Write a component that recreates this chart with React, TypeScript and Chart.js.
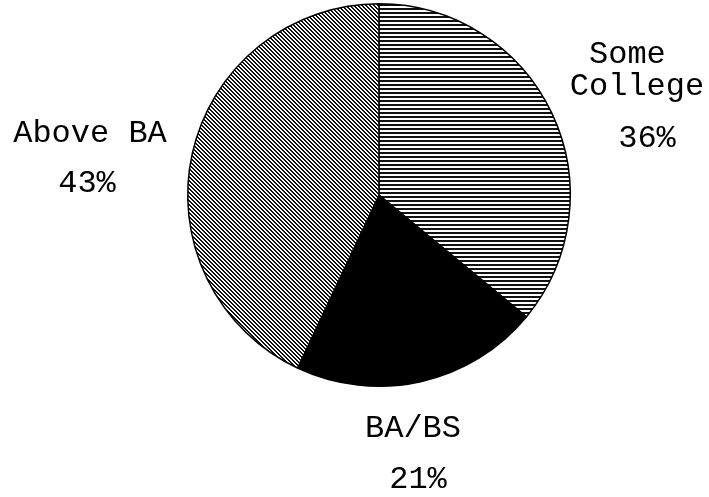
import React, { useEffect, useRef } from "react";
import { Chart, registerables } from "chart.js";

Chart.register(...registerables);

// ---- data ----
const categories = ["Some College", "BA/BS", "Above BA"];
const values = [36, 21, 43];
const nameLines = [["Some ", "College"], ["BA/BS"], ["Above BA"]];
const percentLabels = values.map((v) => `${v}%`);

// ---- label layout (pixel offsets from the pie centre) ----
const nameAnchors = [
  { dx: 258, dy: -132 },
  { dx: 34, dy: 242 },
  { dx: -289, dy: -53 },
];
const percentAnchors = [
  { dx: 268, dy: -48 },
  { dx: 39, dy: 293 },
  { dx: -292, dy: -3 },
];
const LINE_HEIGHT = 32;
const FONT = "32px 'Liberation Mono', 'Courier New', monospace";

function makeHorizontalPattern(): CanvasPattern | string {
  const c = document.createElement("canvas");
  c.width = 4;
  c.height = 4;
  const ctx = c.getContext("2d");
  if (!ctx) return "#888";
  ctx.fillStyle = "#fff";
  ctx.fillRect(0, 0, 4, 4);
  ctx.fillStyle = "#111";
  ctx.fillRect(0, 0, 4, 2);
  return ctx.createPattern(c, "repeat") || "#888";
}

function makeDiagonalPattern(): CanvasPattern | string {
  const c = document.createElement("canvas");
  c.width = 4;
  c.height = 4;
  const ctx = c.getContext("2d");
  if (!ctx) return "#888";
  ctx.fillStyle = "#fff";
  ctx.fillRect(0, 0, 4, 4);
  ctx.fillStyle = "#111";
  for (let i = 0; i < 4; i++) {
    ctx.fillRect(i, i, 1, 1);
    ctx.fillRect((i + 1) % 4, i, 1, 1);
  }
  return ctx.createPattern(c, "repeat") || "#888";
}

const labelPlugin = {
  id: "sliceLabels",
  afterDraw(chart: any) {
    const meta = chart.getDatasetMeta(0);
    if (!meta || !meta.data.length) return;
    const arc = meta.data[0];
    const cx = arc.x;
    const cy = arc.y;
    const ctx = chart.ctx;
    ctx.save();
    ctx.font = FONT;
    ctx.fillStyle = "#000";
    ctx.textAlign = "center";
    ctx.textBaseline = "alphabetic";
    categories.forEach((_, i) => {
      const lines = nameLines[i];
      lines.forEach((line, j) => {
        ctx.fillText(line, cx + nameAnchors[i].dx, cy + nameAnchors[i].dy + j * LINE_HEIGHT);
      });
      ctx.fillText(percentLabels[i], cx + percentAnchors[i].dx, cy + percentAnchors[i].dy);
    });
    ctx.restore();
  },
};

export default function App() {
  const ref = useRef<HTMLCanvasElement | null>(null);

  useEffect(() => {
    if (!ref.current) return;
    const chart = new Chart(ref.current, {
      type: "pie",
      data: {
        labels: categories,
        datasets: [
          {
            data: values,
            backgroundColor: [makeHorizontalPattern(), "#000", makeDiagonalPattern()],
            borderColor: "#000",
            borderWidth: 1.5,
            hoverOffset: 0,
          },
        ],
      },
      options: {
        responsive: false,
        animation: false,
        layout: { padding: { left: 187, right: 138, top: 3, bottom: 110 } },
        plugins: {
          legend: { display: false },
          tooltip: { enabled: false },
        },
      },
      plugins: [labelPlugin],
    });
    return () => chart.destroy();
  }, []);

  return (
    <div style={{ position: "fixed", left: 0, top: 0, width: 709, height: 497, background: "#fff" }}>
      <canvas ref={ref} width={709} height={497} style={{ display: "block" }} />
    </div>
  );
}
